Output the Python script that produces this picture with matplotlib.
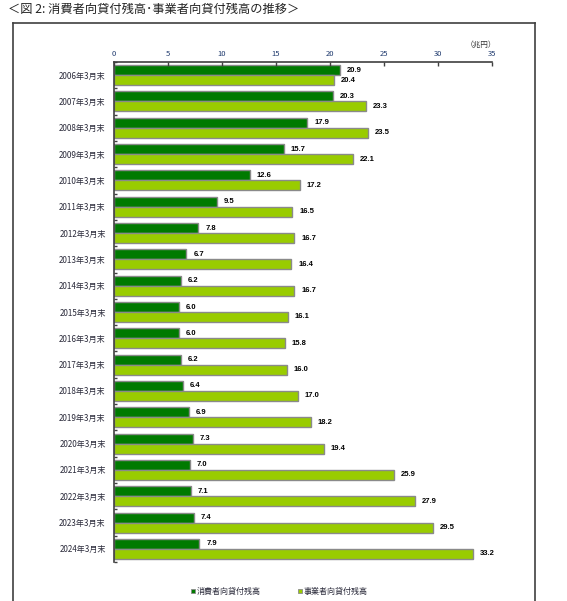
import matplotlib
matplotlib.use("Agg")
import matplotlib.pyplot as plt
from matplotlib.lines import Line2D
from matplotlib.patches import Rectangle

plt.rcParams['font.family'] = ['Noto Sans CJK JP', 'DejaVu Sans']

categories = ["2006年3月末", "2007年3月末", "2008年3月末", "2009年3月末", "2010年3月末",
              "2011年3月末", "2012年3月末", "2013年3月末", "2014年3月末", "2015年3月末",
              "2016年3月末", "2017年3月末", "2018年3月末", "2019年3月末", "2020年3月末",
              "2021年3月末", "2022年3月末", "2023年3月末", "2024年3月末"]
consumer = [20.9, 20.3, 17.9, 15.7, 12.6, 9.5, 7.8, 6.7, 6.2, 6.0,
            6.0, 6.2, 6.4, 6.9, 7.3, 7.0, 7.1, 7.4, 7.9]
business = [20.4, 23.3, 23.5, 22.1, 17.2, 16.5, 16.7, 16.4, 16.7, 16.1,
            15.8, 16.0, 17.0, 18.2, 19.4, 25.9, 27.9, 29.5, 33.2]
series_names = ["消費者向貸付残高", "事業者向貸付残高"]
xticks = [0, 5, 10, 15, 20, 25, 30, 35]

W, H = 567, 601
fig = plt.figure(figsize=(W / 100, H / 100), dpi=100)

def fx(px): return px / W
def fy(py): return 1 - py / H

# outer frame (left, top, right)
fc = '#404040'
fig.add_artist(Line2D([fx(13), fx(13)], [fy(23), fy(601)], color=fc, lw=1.2))
fig.add_artist(Line2D([fx(13), fx(535)], [fy(23), fy(23)], color=fc, lw=1.2))
fig.add_artist(Line2D([fx(535), fx(535)], [fy(23), fy(601)], color=fc, lw=1.2))

fig.text(fx(8), fy(9), "＜図 2: 消費者向貸付残高･事業者向貸付残高の推移＞",
         fontsize=8.8, va='center', ha='left', color='#222222')

ax = fig.add_axes([fx(114), fy(562), fx(492) - fx(114), fy(62) - fy(562)])

n = len(categories)
h = 0.38
pos = list(range(n))
c1, c2 = '#007A00', '#99CC00'
ax.barh([p - h / 2 for p in pos], consumer, height=h, color=c1, edgecolor='#8a8a8a', lw=1.0)
ax.barh([p + h / 2 for p in pos], business, height=h, color=c2, edgecolor='#8a8a8a', lw=1.0)

for p, v in zip(pos, consumer):
    ax.annotate(f"{v:.1f}", (v, p - h / 2), xytext=(5, 0), textcoords='offset points',
                va='center', ha='left', fontsize=5.5, fontweight='bold',
                family='Liberation Sans', color='black')
for p, v in zip(pos, business):
    ax.annotate(f"{v:.1f}", (v, p + h / 2), xytext=(5, 0), textcoords='offset points',
                va='center', ha='left', fontsize=5.5, fontweight='bold',
                family='Liberation Sans', color='black')

ax.set_xlim(0, 35)
ax.set_ylim(n - 0.5, -0.5)
ax.xaxis.tick_top()
ax.set_xticks(xticks)
ax.set_xticklabels([str(t) for t in xticks])
ax.tick_params(axis='x', direction='in', length=3, width=1, color='#404040',
               labelsize=5.5, labelcolor='#1F3A6E', pad=3)
ax.set_yticks([i - 0.5 for i in range(n + 1)])
ax.set_yticklabels([])
ax.set_yticks(pos, minor=True)
ax.set_yticklabels(categories, minor=True)
ax.tick_params(axis='y', which='major', direction='in', length=2, width=1, color='#404040')
ax.tick_params(axis='y', which='minor', length=0, labelsize=5.8, labelcolor='#2a2a3a', pad=6)

for s in ['right', 'bottom']:
    ax.spines[s].set_visible(False)
for s in ['top', 'left']:
    ax.spines[s].set_color('#404040')
    ax.spines[s].set_linewidth(1.2)

fig.text(fx(481), fy(45), "（兆円）", fontsize=5.5, ha='center', va='center', color='#333333')

# legend
for (xs, col, name) in [(191, c1, series_names[0]), (298, c2, series_names[1])]:
    fig.add_artist(Rectangle((fx(xs), fy(593)), fx(4), 4 / H, facecolor=col,
                             edgecolor='#8a8a8a', lw=0.6, transform=fig.transFigure))
    fig.text(fx(xs + 6), fy(591), name, fontsize=5.8, ha='left', va='center', color='#2a2a3a')

fig.savefig("out.png", dpi=100)
